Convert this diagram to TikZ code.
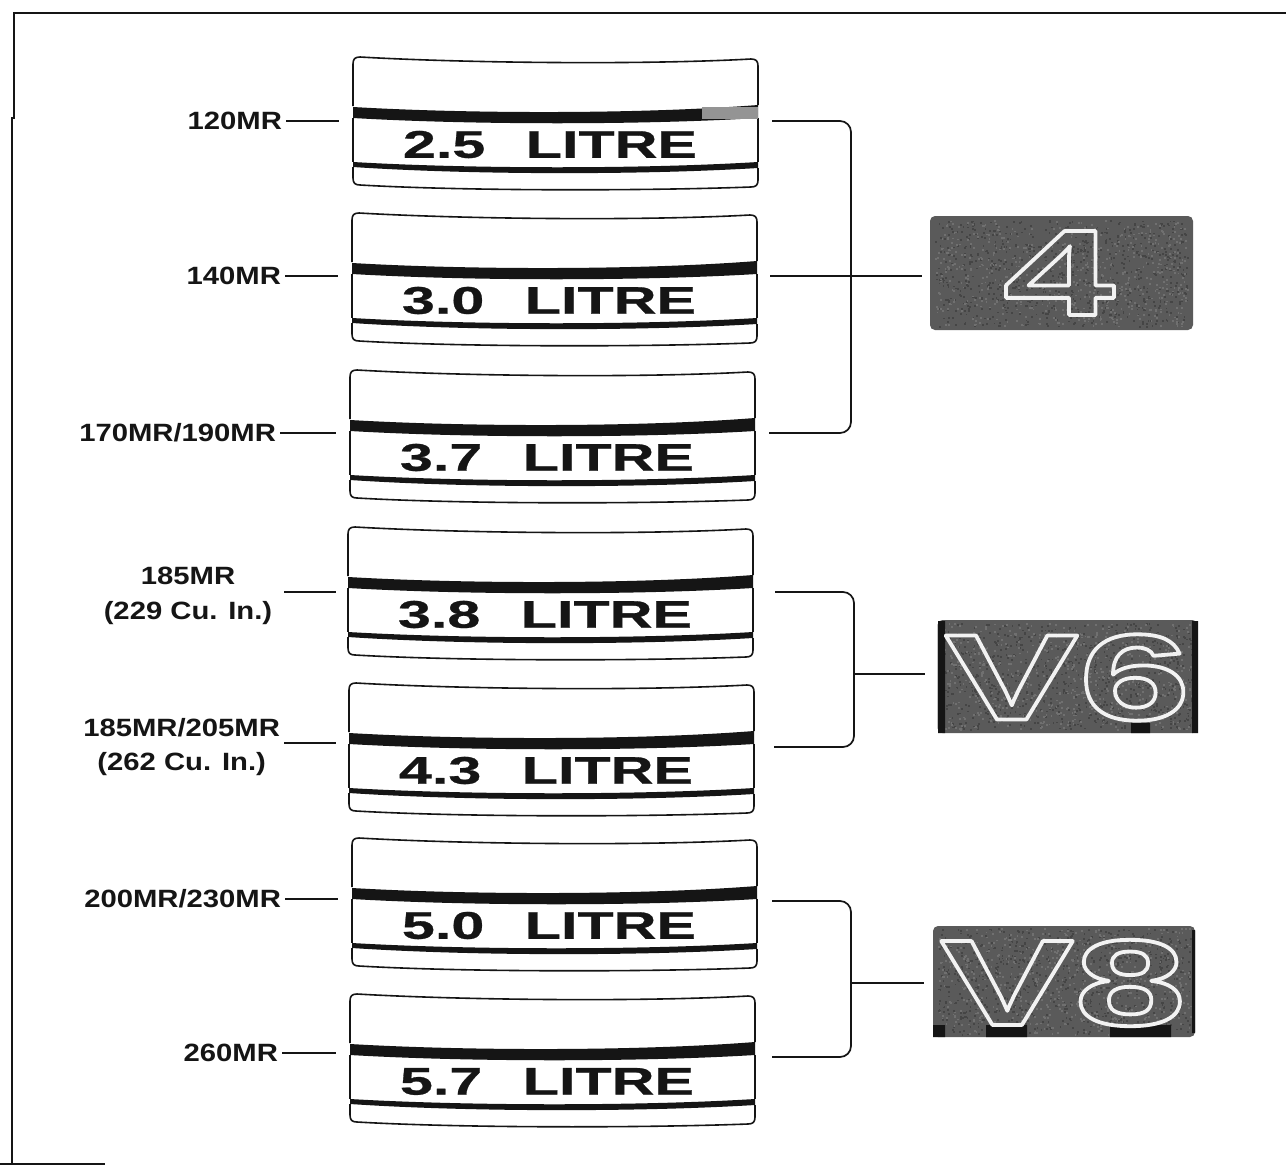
\documentclass[tikz,border=0pt]{standalone}
\usepackage{fontspec}
\setmainfont{Liberation Sans}
\newfontfamily\labfont[FakeStretch=1.17]{Liberation Sans}
\newfontfamily\plate[FakeStretch=1.54,FakeBold=0.7]{Liberation Sans}
\newfontfamily\emblemfont[FakeStretch=1.65]{Liberation Sans}
\definecolor{ink}{HTML}{151515}
\definecolor{plategray}{HTML}{5A5A5A}
\newcommand{\outlined}[1]{\special{pdf:code q 1 Tr 1 j 3.8 w 0.95 0.95 0.95 RG}#1\special{pdf:code Q}}
\tikzset{
  lab/.style={inner sep=0pt,outer sep=4pt,text=ink,align=center,font=\labfont\bfseries\fontsize{25}{34.5}\selectfont},
  conn/.style={draw=ink,line width=1.7pt},
  badgebox/.style={minimum width=405pt,minimum height=133pt,inner sep=0pt,outer sep=0pt},
  badgetext/.style={inner sep=0pt,text=ink,font=\plate\bfseries\fontsize{38.5}{40}\selectfont},
  emblem/.style={rounded corners=5pt,fill=plategray,inner sep=0pt,outer sep=0pt},
  emtext/.style={inner sep=0pt,text=white,font=\emblemfont\bfseries\fontsize{122}{122}\selectfont},
}
\newcommand{\grain}[3]{%
  \pgfmathsetseed{#3}%
  \foreach \i in {1,...,800} {\fill[black!73] (#1+rand*126,#2+rand*53) rectangle ++(1.8,1.8);}%
  \foreach \i in {1,...,600} {\fill[black!56] (#1+rand*126,#2+rand*53) rectangle ++(1.8,1.8);}%
}
\newcommand{\badge}[4]{%
  \begin{scope}[shift={(#2,#3)}]
    \draw[ink,line width=1.6pt,line join=round]
      (0,49) -- (0,7) .. controls (0,2) and (2,0) .. (7,0)
      .. controls (110,6) and (290,8) .. (398,2) .. controls (403,2) and (405,4) .. (405,9) -- (405,48);
    \draw[ink,line width=1.6pt,line join=round]
      (0,110) -- (0,121) .. controls (0,126) and (2,128) .. (7,128)
      .. controls (110,134) and (290,134) .. (398,130) .. controls (403,130) and (405,128) .. (405,123) -- (405,111);
    \fill[ink] (0,50) .. controls (120,57) and (290,57) .. (405,48) -- (405,61)
      .. controls (290,68) and (120,68) .. (0,61) -- cycle;
    \fill[ink] (0,105) .. controls (120,112) and (290,112) .. (405,105) -- (405,111)
      .. controls (290,118) and (120,118) .. (0,110) -- cycle;
    \draw[ink,line width=1.6pt] (0,61) -- (0,105) (405,61) -- (405,105);
    \node[badgebox] (#1) at (202.5,66) {};
    \node[badgetext] (#1t) at (197,87.5) {#4\hspace{24pt} LITRE};
  \end{scope}}
\begin{document}
\begin{tikzpicture}[x=1pt,y=-1pt]
\useasboundingbox (0,0) rectangle (1286,1165);
\fill[white] (0,0) rectangle (1286,1165);
% frame
\draw[ink,line width=2.6pt] (1286,13) -- (14,13) -- (14,118) -- (12,118) -- (12,1163);
\draw[ink,line width=2.6pt] (0,1164) -- (105,1164);
% plates
\badge{b1}{353}{57}{2.5}
\fill[black!42] (702,107) rectangle (758,119);
\badge{b2}{352}{213}{3.0}
\badge{b3}{350}{370}{3.7}
\badge{b4}{348}{527}{3.8}
\badge{b5}{349}{683}{4.3}
\badge{b6}{352}{838}{5.0}
\badge{b7}{350}{994}{5.7}
% labels
\node[lab,anchor=east] (l1) at (286,121) {120MR};
\node[lab,anchor=east] (l2) at (285,276) {140MR};
\node[lab,anchor=east] (l3) at (280,433) {170MR/190MR};
\node[lab,outer sep=12pt] (l4) at (188,596) {185MR\\(229 Cu. In.)};
\node[lab,anchor=east] (l5) at (284,747) {185MR/205MR\\(262 Cu. In.)};
\node[lab,anchor=east] (l6) at (285,899) {200MR/230MR};
\node[lab,anchor=east] (l7) at (282,1053) {260MR};
% left connectors
\foreach \n in {1,2,3,6,7} {
  \draw[conn,shorten >=14pt] (l\n.east) -- (b\n.west |- l\n.east);
}
\draw[conn,shorten >=12pt] ([yshift=4pt]l4.east) -- ([yshift=4pt]b4.west |- l4.east);
\draw[conn,shorten >=13pt] ([yshift=4pt]l5.east) -- ([yshift=4pt]b5.west |- l5.east);
% emblems
\node[emblem,minimum width=263pt,minimum height=114pt] (e1) at (1061.5,273) {};
\node[emblem,minimum width=260pt,minimum height=113pt] (e2) at (1067.5,676.5) {};
\node[emblem,minimum width=262pt,minimum height=111pt] (e3) at (1064,981.5) {};
\grain{1061}{273}{11}
\grain{1067}{676}{23}
\grain{1064}{981}{37}
\fill[ink] (938,621) rectangle (945,733) (1192,621) rectangle (1198,733) (1131,723) rectangle (1150,733);
\fill[ink] (933,1025) rectangle (945,1037) (986,1025) rectangle (1027,1037) (1110,1025) rectangle (1171,1037) (1192,930) rectangle (1195,1033);
\node[emtext] (t1) at (1059,273) {\outlined{4}};
\node[emtext] (t2) at (1067.5,677.5) {\outlined{V6}};
\node[emtext] (t3) at (1063,983) {\outlined{V8}};
% brackets
\coordinate (s1) at (851,276);
\coordinate (s2) at (854,674);
\coordinate (s3) at (851,983);
\draw[conn,rounded corners=11pt] ([xshift=14pt]b1.east |- l1.east) -| (s1) |- ([xshift=14pt]b3.east |- l3.east);
\draw[conn,shorten <=13pt,shorten >=8pt] (b2.east |- l2.east) -- (e1.west |- l2.east);
\draw[conn,rounded corners=11pt] ([xshift=22pt,yshift=4pt]b4.east |- l4.east) -| (s2) |- ([xshift=20pt]b5.east |- l5.east);
\draw[conn,shorten >=13pt] (s2) -- (e2.west |- s2);
\draw[conn,rounded corners=11pt] ([xshift=15pt,yshift=-2pt]b6.east |- l6.east) -| (s3) |- ([xshift=17pt,yshift=-4pt]b7.east |- l7.east);
\draw[conn,shorten >=9pt] (s3) -- (e3.west |- s3);
\end{tikzpicture}
\end{document}
